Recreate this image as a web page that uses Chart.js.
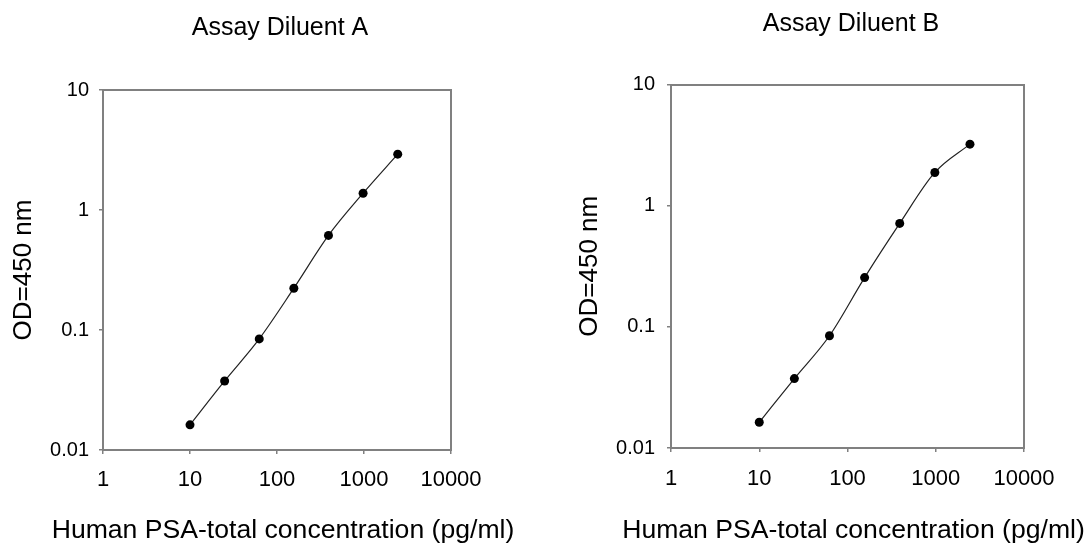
<!DOCTYPE html>
<html><head><meta charset="utf-8">
<script src="https://cdn.jsdelivr.net/npm/chart.js@4.4.1/dist/chart.umd.min.js"></script>
<style>
html,body{margin:0;padding:0;background:#fff;}
body{width:1085px;height:550px;position:relative;overflow:hidden;}
.panel{position:absolute;top:0;height:550px;width:542px;}
#wrapA{left:0;}
#wrapB{left:543px;}
</style></head><body>
<div class="panel" id="wrapA"><canvas id="chartA"></canvas></div>
<div class="panel" id="wrapB"><canvas id="chartB"></canvas></div>
<script>
const concentrations = [10, 25, 62.5, 156.25, 390.625, 976.5625, 2441.40625];
const odDiluentA = [0.0162, 0.0376, 0.0843, 0.223, 0.614, 1.38, 2.92];
const odDiluentB = [0.0163, 0.0374, 0.0844, 0.255, 0.714, 1.88, 3.22];
const xTickValues = [1, 10, 100, 1000, 10000];
const xTickLabels = ['1', '10', '100', '1000', '10000'];
const yTickValues = [0.01, 0.1, 1, 10];
const yTickLabels = ['0.01', '0.1', '1', '10'];
const panelTitles = ['Assay Diluent A', 'Assay Diluent B'];
const xAxisTitle = 'Human PSA-total concentration (pg/ml)';
const yAxisTitle = 'OD=450 nm';

const FONT = "'Liberation Sans', Arial, Helvetica, sans-serif";
const AXIS_COLOR = '#808080';

// Draws panel title and x-axis title centred on the plot area (texts wider than the plot)
const panelTextPlugin = {
  id: 'panelText',
  afterDraw(chart, args, opts) {
    const {ctx, chartArea} = chart;
    const cx = (chartArea.left + chartArea.right) / 2;
    ctx.save();
    ctx.fillStyle = '#000';
    ctx.textAlign = 'center';
    ctx.textBaseline = 'middle';
    ctx.font = opts.titleSize + 'px ' + FONT;
    ctx.fillText(opts.title, cx + opts.titleDx, opts.titleY);
    ctx.font = opts.xTitleSize + 'px ' + FONT;
    ctx.fillText(opts.xTitle, cx + opts.xTitleDx, opts.xTitleY);
    ctx.restore();
  }
};

function buildChart(id, values, title, L) {
  const points = concentrations.map((c, i) => ({x: c, y: values[i]}));
  return new Chart(document.getElementById(id), {
    type: 'scatter',
    data: {
      datasets: [{
        data: points,
        xAxisID: 'x',
        yAxisID: 'y',
        showLine: true,
        borderColor: '#222',
        borderWidth: 1.2,
        cubicInterpolationMode: 'monotone',
        pointRadius: 4.5,
        pointBackgroundColor: '#000',
        pointBorderWidth: 0,
        pointHoverRadius: 4.5
      }]
    },
    plugins: [panelTextPlugin],
    options: {
      responsive: true,
      maintainAspectRatio: false,
      animation: false,
      layout: {padding: {left: 0, right: L.pR, top: L.top, bottom: 0}},
      plugins: {
        legend: {display: false},
        tooltip: {enabled: false},
        panelText: {
          title: title, titleSize: 25, titleDx: L.tdx, titleY: L.ty,
          xTitle: xAxisTitle, xTitleSize: 26.6, xTitleDx: L.xtdx, xTitleY: 531
        }
      },
      scales: {
        x: {
          type: 'logarithmic',
          position: 'bottom',
          min: 1, max: 10000,
          afterBuildTicks: s => { s.ticks = xTickValues.map(v => ({value: v})); },
          afterFit: s => { s.height = L.xH; },
          ticks: {
            autoSkip: false, maxRotation: 0, minRotation: 0,
            padding: L.xPad, color: '#000',
            font: {family: FONT, size: 22},
            callback: (v, i) => xTickLabels[i]
          },
          grid: {display: true, drawOnChartArea: false, drawTicks: true, tickLength: 4, color: AXIS_COLOR, lineWidth: 1.5},
          border: {display: true, color: AXIS_COLOR, width: 2},
          title: {display: false}
        },
        y: {
          type: 'logarithmic',
          position: 'left',
          min: 0.01, max: 10,
          afterBuildTicks: s => { s.ticks = yTickValues.map(v => ({value: v})); },
          afterFit: s => { s.width = L.yW; },
          ticks: {
            autoSkip: false,
            padding: L.yPad, color: '#000',
            font: {family: FONT, size: 20},
            callback: (v, i) => yTickLabels[i]
          },
          grid: {display: true, drawOnChartArea: false, drawTicks: true, tickLength: 4, color: AXIS_COLOR, lineWidth: 1.5},
          border: {display: true, color: AXIS_COLOR, width: 2},
          title: {display: true, text: yAxisTitle, color: '#000', font: {family: FONT, size: 26}, padding: {top: L.ytPad, bottom: 0}}
        },
        x2: {
          type: 'linear', position: 'top', display: true,
          afterFit: s => { s.height = 0; },
          ticks: {display: false},
          grid: {display: false},
          border: {display: true, color: AXIS_COLOR, width: 2}
        },
        y2: {
          type: 'linear', position: 'right', display: true,
          afterFit: s => { s.width = 0; },
          ticks: {display: false},
          grid: {display: false},
          border: {display: true, color: AXIS_COLOR, width: 2}
        }
      }
    }
  });
}

buildChart('chartA', odDiluentA, panelTitles[0],
  {top: 90, pR: 91, yW: 103, xH: 100, xPad: 13, yPad: 10, ytPad: 8.4, tdx: 3, ty: 28, xtdx: 6});
buildChart('chartB', odDiluentB, panelTitles[1],
  {top: 84.5, pR: 61, yW: 128, xH: 102, xPad: 14, yPad: 12, ytPad: 31.4, tdx: 3.5, ty: 24.5, xtdx: 6});
</script>
</body></html>
